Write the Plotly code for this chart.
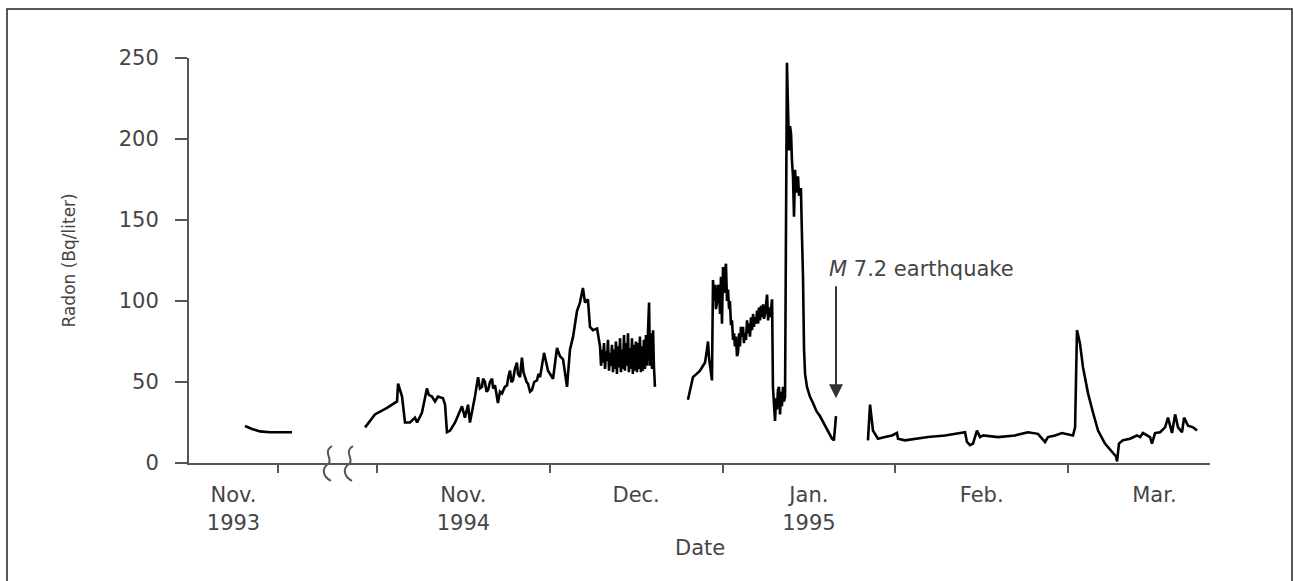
import plotly.graph_objects as go

# ---------------- data ----------------
# 1993 piece: t in months since 1 Nov 1993 (left of the axis break)
t_1993 = [0.629, 0.708, 0.798, 0.910, 1.157]
radon_1993 = [22.8, 21, 19.5, 19, 19]

# 1994-95 pieces: t in months since 1 Nov 1994
t_novdec = [-0.069, -0.012, 0.058, 0.116, 0.122, 0.145, 0.162, 0.191, 0.220, 0.232,
            0.260, 0.289, 0.300, 0.318, 0.336, 0.353, 0.382, 0.394, 0.405, 0.423, 0.452,
            0.469, 0.492, 0.509, 0.527, 0.538, 0.556, 0.567,
            0.585, 0.596, 0.608, 0.614, 0.625, 0.634, 0.643, 0.654, 0.666, 0.672,
            0.683, 0.690, 0.700, 0.712, 0.724, 0.740, 0.753, 0.760, 0.770, 0.778,
            0.787, 0.798, 0.810, 0.816, 0.828, 0.834, 0.839, 0.848, 0.857, 0.866,
            0.874, 0.886, 0.897, 0.910, 0.926, 0.935, 0.944,
            0.967, 0.990, 1.019, 1.042,
            1.059, 1.077, 1.100, 1.117, 1.135, 1.158, 1.175, 1.192, 1.204, 1.221,
            1.233, 1.250, 1.274, 1.291, 1.297, 1.303, 1.308, 1.314, 1.320, 1.326,
            1.331, 1.337, 1.343, 1.349, 1.354, 1.360, 1.366, 1.372, 1.377, 1.383,
            1.389, 1.395, 1.400, 1.407, 1.412, 1.418, 1.424, 1.430, 1.435, 1.441,
            1.447, 1.453, 1.458, 1.464, 1.470, 1.476, 1.481, 1.487, 1.493, 1.499,
            1.505, 1.510, 1.516, 1.522, 1.528, 1.533, 1.539, 1.545, 1.551, 1.557,
            1.563, 1.569, 1.575, 1.580, 1.586, 1.592, 1.598, 1.603, 1.609]
radon_novdec = [22, 30, 34, 38, 49, 41, 25, 25, 28, 25,
                31, 46, 42, 41, 38, 41, 40, 36, 19, 20, 25,
                29, 35, 28, 36, 25, 34, 41,
                53, 46, 47, 52, 50, 44, 45, 50, 52, 46,
                48, 42, 37, 44, 43, 47, 48, 53, 57, 50,
                51, 58, 62, 55, 53, 60, 65, 56, 53, 50,
                49, 44, 45, 50, 51, 55, 53,
                68, 57, 52, 71,
                66, 64, 47, 70, 78, 94, 99, 108, 99, 101,
                84, 82, 83, 72, 60, 70, 62, 74, 58, 69,
                63, 76, 57, 68, 60, 73, 56, 70, 58, 75,
                55, 72, 59, 77, 56, 70, 58, 79, 57, 74,
                60, 80, 56, 71, 58, 77, 55, 73, 57, 75,
                56, 74, 58, 78, 56, 72, 57, 76, 58, 79,
                60, 82, 99, 60, 80, 58, 82, 60, 47]

t_decjan = [1.800, 1.812, 1.829, 1.850, 1.870, 1.887, 1.899, 1.910, 1.916, 1.922,
            1.939, 1.945, 1.951, 1.957, 1.962, 1.968, 1.974, 1.980, 1.986, 1.991,
            1.997, 2.003, 2.009, 2.014, 2.020, 2.026, 2.032, 2.038, 2.043, 2.049,
            2.055, 2.061, 2.067, 2.072, 2.078, 2.084, 2.090, 2.096, 2.101, 2.107,
            2.113, 2.119, 2.124, 2.130, 2.136, 2.142, 2.148, 2.153, 2.159, 2.165,
            2.171, 2.177, 2.182, 2.188, 2.194, 2.200, 2.206, 2.211, 2.217, 2.223,
            2.229, 2.235, 2.240, 2.246, 2.252, 2.258, 2.264, 2.270, 2.275, 2.281,
            2.287, 2.292, 2.298, 2.304, 2.310, 2.315, 2.321, 2.327, 2.333, 2.339,
            2.344, 2.350, 2.356, 2.362, 2.373, 2.379, 2.385, 2.391, 2.397, 2.402,
            2.408, 2.414, 2.420, 2.425, 2.431, 2.437, 2.443, 2.449, 2.454, 2.460,
            2.466, 2.472, 2.478, 2.489, 2.506, 2.524, 2.544, 2.564, 2.585, 2.605,
            2.620, 2.634, 2.645, 2.657]
radon_decjan = [39, 45, 53, 55, 57, 60, 62, 70, 75, 65,
                51, 113, 100, 110, 95, 99, 110, 107, 92, 115,
                86, 121, 105, 118, 123, 100, 107, 95, 100, 85,
                88, 76, 80, 72, 78, 66, 68, 80, 72, 84,
                78, 84, 74, 80, 76, 88, 80, 86, 78, 90,
                82, 92, 84, 90, 86, 94, 86, 96, 88, 97,
                90, 98, 89, 92, 100, 104, 88, 96, 90, 98,
                101, 47, 35, 26, 40, 33, 45, 47, 30, 44,
                35, 47, 38, 41, 247, 205, 193, 208, 203, 187,
                177, 152, 181, 172, 167, 177, 165, 169, 169, 140,
                115, 70, 55, 47, 41, 37, 32, 29, 25, 21,
                18, 15, 14, 29]

t_janmar = [2.842, 2.854, 2.871, 2.900, 2.941, 2.981, 3.010, 3.016, 3.056, 3.114,
            3.190, 3.288, 3.363, 3.404, 3.415, 3.433, 3.450, 3.473, 3.491, 3.508,
            3.595, 3.693, 3.768, 3.826, 3.867, 3.884, 3.925, 3.965, 4.029, 4.041,
            4.052, 4.069, 4.087, 4.116, 4.145, 4.174, 4.214, 4.255, 4.278, 4.284,
            4.295, 4.318, 4.359, 4.399, 4.417, 4.434, 4.475, 4.486, 4.504, 4.533,
            4.562, 4.579, 4.602, 4.620, 4.637, 4.660, 4.672, 4.695, 4.724, 4.747]
radon_janmar = [14, 36, 20, 15, 16, 17, 18.5, 15, 14, 15,
                16, 17, 18.5, 19, 13, 11, 12, 20, 16, 17,
                16, 17, 19, 18, 13, 16, 17, 18.5, 17, 22,
                82, 74, 59, 43, 31, 20, 12, 7, 4, 1,
                12, 14, 15, 17, 16, 18.5, 16, 12, 18.5, 19,
                22, 28, 18.5, 30, 22, 19, 28, 23, 22, 20]

month_ticks_1993 = [1]
label_pos_1993 = [0.5]
labels_1993 = ["Nov.<br>1993"]
month_ticks = [0, 1, 2, 3, 4]
label_pos = [0.5, 1.5, 2.5, 3.5, 4.5]
labels = ["Nov.<br>1994", "Dec.", "Jan.<br>1995", "Feb.", "Mar."]
y_ticks = [0, 50, 100, 150, 200, 250]
quake_t, quake_tip, quake_tail = 2.657, 40, 110

# ---------------- layout geometry ----------------
W, H = 1294, 581
L, R, T, B = 189, 84, 58, 118
pw, ph = W - L - R, H - T - B
BREAK_PX = 337
split = (BREAK_PX - L) / pw
PX_PER_MONTH_93 = 89
PX_PER_MONTH = 172.75
NOV94_PX = 377

def paper(x, y):
    return (x - L) / pw, (H - B - y) / ph

GREY = "#555555"
TXT = "#454545"
FONT = "DejaVu Sans"
LINE_W = 2.6

main_t, main_v = [], []
for ts, vs in [(t_novdec, radon_novdec), (t_decjan, radon_decjan), (t_janmar, radon_janmar)]:
    main_t += ts + [None]
    main_v += vs + [None]

fig = go.Figure()
fig.add_trace(go.Scatter(x=t_1993, y=radon_1993, mode="lines", xaxis="x", yaxis="y",
                         line=dict(color="black", width=LINE_W), showlegend=False))
fig.add_trace(go.Scatter(x=main_t, y=main_v, mode="lines", xaxis="x2", yaxis="y",
                         line=dict(color="black", width=LINE_W), showlegend=False,
                         connectgaps=False))

tickfont = dict(family=FONT, size=21, color=TXT)
common_x = dict(showline=True, linecolor=GREY, linewidth=2, showgrid=False, zeroline=False,
                tickmode="array", ticks="outside", ticklen=12, tickcolor="rgba(0,0,0,0)",
                tickfont=tickfont, anchor="y", fixedrange=True)

fig.update_layout(
    width=W, height=H,
    margin=dict(l=L, r=R, t=T, b=B, pad=0),
    paper_bgcolor="white", plot_bgcolor="white",
    xaxis=dict(domain=[0, split], range=[0, (BREAK_PX - L) / PX_PER_MONTH_93],
               tickvals=label_pos_1993, ticktext=labels_1993,
               minor=dict(tickmode="array", tickvals=month_ticks_1993, ticks="outside",
                          ticklen=8, tickwidth=2, tickcolor=GREY),
               **common_x),
    xaxis2=dict(domain=[split, 1],
                range=[(BREAK_PX - NOV94_PX) / PX_PER_MONTH, (W - R - NOV94_PX) / PX_PER_MONTH],
                tickvals=label_pos, ticktext=labels,
                minor=dict(tickmode="array", tickvals=month_ticks, ticks="outside",
                           ticklen=8, tickwidth=2, tickcolor=GREY),
                **common_x),
    yaxis=dict(range=[0, 250], tickmode="array", tickvals=y_ticks, ticks="outside",
               ticklen=12, tickwidth=2, tickcolor=GREY, showline=True, linecolor=GREY,
               linewidth=2, showgrid=False, zeroline=False, anchor="x",
               ticklabelstandoff=12, tickfont=tickfont, fixedrange=True),
)

# axis titles
fig.add_annotation(text="Date", xref="paper", yref="paper", x=0.5, y=paper(0, 548)[1],
                   xanchor="center", yanchor="middle", showarrow=False,
                   font=dict(family=FONT, size=21, color=TXT))
fig.add_annotation(text="Radon (Bq/liter)", xref="paper", yref="paper",
                   x=paper(68, 0)[0], y=0.5, textangle=-90, xanchor="center",
                   yanchor="middle", showarrow=False,
                   font=dict(family=FONT, size=17, color=TXT))

# earthquake arrow and label
fig.add_annotation(x=quake_t, y=quake_tip, xref="x2", yref="y",
                   ax=quake_t, ay=quake_tail, axref="x2", ayref="y",
                   text="", showarrow=True, arrowhead=2, arrowsize=1.4,
                   arrowwidth=2, arrowcolor="#333333")
fig.add_annotation(x=2.605, y=120, xref="x2", yref="y", xanchor="left", yanchor="middle",
                   text="<i>M</i> 7.2 earthquake", showarrow=False,
                   font=dict(family=FONT, size=21, color=TXT))

# axis-break squiggles
def squiggle(xc):
    pts = [(xc + 4, 446), (xc - 6, 452), (xc + 6, 460), (xc, 464),
           (xc - 6, 468), (xc - 6, 476), (xc + 3, 481)]
    p = [paper(*q) for q in pts]
    return ("M {:.5f},{:.5f} C {:.5f},{:.5f} {:.5f},{:.5f} {:.5f},{:.5f} "
            "C {:.5f},{:.5f} {:.5f},{:.5f} {:.5f},{:.5f}").format(
        *[c for q in p for c in q])

for xc in (328, 349):
    fig.add_shape(type="path", path=squiggle(xc), xref="paper", yref="paper",
                  line=dict(color=GREY, width=2))

# outer frame
x0, y0 = paper(7, 9)
x1, y1 = paper(1292, 600)
fig.add_shape(type="rect", xref="paper", yref="paper", x0=x0, y0=y1, x1=x1, y1=y0,
              line=dict(color="#222222", width=1.5), layer="below")

fig.write_html("out.html")
